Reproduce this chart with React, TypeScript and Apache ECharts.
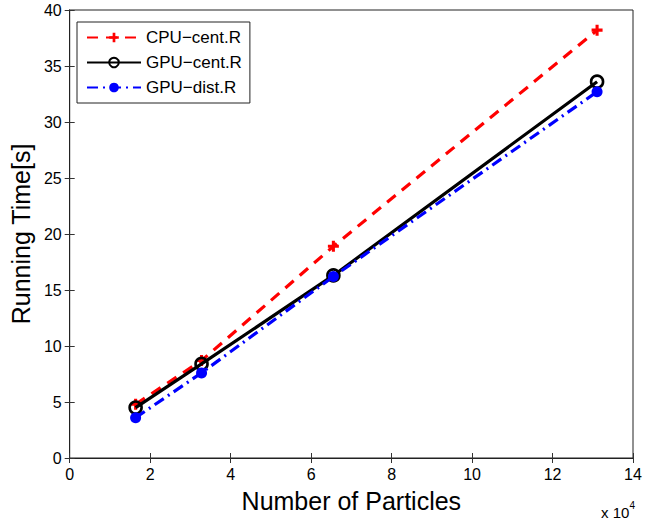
import React, { useEffect, useRef } from "react";
import * as echarts from "echarts";

const particles = [16384, 32768, 65536, 131072];
const cpuCent = [4.8, 8.7, 18.9, 38.2];
const gpuCent = [4.5, 8.4, 16.3, 33.6];
const gpuDist = [3.6, 7.6, 16.2, 32.7];
const seriesNames = ["CPU−cent.R", "GPU−cent.R", "GPU−dist.R"];
const FONT = "Liberation Sans, Arial, Helvetica, sans-serif";
const PLUS = "path://M3.6,0H6.4V3.6H10V6.4H6.4V10H3.6V6.4H0V3.6H3.6Z";

export default function App() {
  const ref = useRef<HTMLDivElement>(null);
  useEffect(() => {
    if (!ref.current) return;
    const chart = echarts.init(ref.current, null, { renderer: "svg" });
    const toPairs = (ys: number[]) => particles.map((x, i) => [x, ys[i]]);
    const tickStyle = { show: true, inside: true, length: 5, lineStyle: { color: "#333", width: 1 } };
    chart.setOption({
      animation: false,
      backgroundColor: "#fff",
      textStyle: { fontFamily: FONT },
      grid: { left: 67, right: 24, top: 10, bottom: 65, show: true, borderColor: "#222", borderWidth: 1, backgroundColor: "#fff" },
      legend: {
        orient: "vertical",
        left: 77,
        top: 22,
        padding: [7, 8, 7, 9],
        borderColor: "#222",
        borderWidth: 1,
        backgroundColor: "#fff",
        itemWidth: 54,
        itemHeight: 12,
        itemGap: 8,
        textStyle: { fontSize: 17, color: "#000", fontFamily: FONT },
        data: seriesNames,
      },
      xAxis: [
        {
          type: "value",
          min: 0,
          max: 140000,
          interval: 20000,
          name: "Number of Particles",
          nameLocation: "middle",
          nameGap: 30,
          nameTextStyle: { fontSize: 25, color: "#000", fontFamily: FONT },
          axisLine: { show: true, onZero: false, lineStyle: { color: "#222" } },
          axisTick: tickStyle,
          axisLabel: { fontSize: 16, color: "#000", margin: 8, formatter: (v: number) => String(v / 10000) },
          splitLine: { show: false },
        },
        {
          type: "value",
          position: "top",
          min: 0,
          max: 140000,
          interval: 20000,
          axisLine: { show: true, lineStyle: { color: "#222" } },
          axisTick: tickStyle,
          axisLabel: { show: false },
          splitLine: { show: false },
        },
      ],
      yAxis: [
        {
          type: "value",
          min: 0,
          max: 40,
          interval: 5,
          name: "Running Time[s]",
          nameLocation: "middle",
          nameGap: 29,
          nameTextStyle: { fontSize: 25, color: "#000", fontFamily: FONT },
          axisLine: { show: true, lineStyle: { color: "#222" } },
          axisTick: tickStyle,
          axisLabel: { fontSize: 16, color: "#000", margin: 8 },
          splitLine: { show: false },
        },
        {
          type: "value",
          position: "right",
          min: 0,
          max: 40,
          interval: 5,
          axisLine: { show: true, lineStyle: { color: "#222" } },
          axisTick: tickStyle,
          axisLabel: { show: false },
          splitLine: { show: false },
        },
      ],
      graphic: [
        {
          type: "text",
          right: 22,
          top: 500,
          style: {
            text: "{a|x 10}{b|4}",
            rich: {
              a: { fontSize: 15, fontFamily: FONT, fill: "#000", verticalAlign: "bottom" },
              b: { fontSize: 10, fontFamily: FONT, fill: "#000", verticalAlign: "top", padding: [0, 0, 10, 0] },
            },
          },
        },
      ],
      series: [
        {
          name: seriesNames[0],
          type: "line",
          data: toPairs(cpuCent),
          symbol: PLUS,
          symbolSize: 11,
          showAllSymbol: true,
          z: 2,
          lineStyle: { color: "#ff0000", width: 3.2, type: [11, 8] },
          itemStyle: { color: "#ff0000" },
          emphasis: { disabled: true },
        },
        {
          name: seriesNames[1],
          type: "line",
          data: toPairs(gpuCent),
          symbol: "circle",
          symbolSize: 12,
          z: 3,
          lineStyle: { color: "#000", width: 3.2, type: "solid" },
          itemStyle: { color: "rgba(255,255,255,0)", borderColor: "#000", borderWidth: 2.6 },
          emphasis: { disabled: true },
        },
        {
          name: seriesNames[2],
          type: "line",
          data: toPairs(gpuDist),
          symbol: "circle",
          symbolSize: 11,
          z: 4,
          lineStyle: { color: "#0000ff", width: 3.2, type: [11, 5, 2, 5] },
          itemStyle: { color: "#0000ff", borderWidth: 0 },
          emphasis: { disabled: true },
        },
      ],
    });
    return () => chart.dispose();
  }, []);
  return <div ref={ref} style={{ width: 657, height: 523, position: "absolute", left: 0, top: 0 }} />;
}
